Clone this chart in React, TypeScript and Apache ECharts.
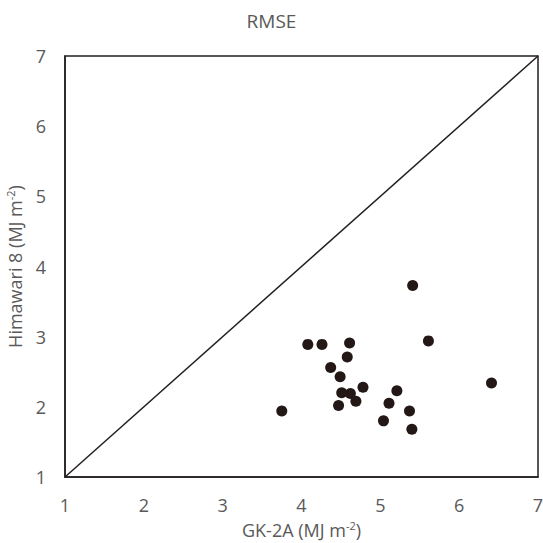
import React, { useEffect, useRef } from "react";
import * as echarts from "echarts";

const gk2a = [5.41, 5.61, 4.08, 4.26, 4.61, 4.58, 4.37, 4.49, 4.78, 6.41, 4.51, 4.62, 5.21, 4.69, 5.11, 4.47, 5.37, 5.04, 5.40, 3.75];
const himawari = [3.73, 2.94, 2.89, 2.89, 2.91, 2.71, 2.56, 2.43, 2.28, 2.34, 2.20, 2.19, 2.23, 2.08, 2.05, 2.02, 1.94, 1.80, 1.68, 1.94];
const oneToOne = [[1, 1], [7, 7]];

export default function App() {
  const ref = useRef<HTMLDivElement>(null);
  useEffect(() => {
    const chart = echarts.init(ref.current!, null, { renderer: "svg" });
    const gray = "#595959";
    const font = "Open Sans";
    const rich = {
      n: { color: gray, fontSize: 18, fontFamily: font, lineHeight: 20 },
      s: { color: gray, fontSize: 11, fontFamily: font, verticalAlign: "top", lineHeight: 12 },
    };
    chart.setOption({
      animation: false,
      backgroundColor: "#fff",
      title: {
        text: "RMSE",
        left: "center",
        top: 6,
        textStyle: { color: gray, fontSize: 19, fontWeight: "normal", fontFamily: font },
      },
      grid: {
        left: 65, right: 5, top: 56, bottom: 66,
        outerBoundsMode: "none", containLabel: false,
        show: true, borderColor: "#231f20", borderWidth: 1.5,
      },
      xAxis: {
        type: "value",
        min: 1,
        max: 7,
        interval: 1,
        name: "{n|GK-2A (MJ m}{s|-2}{n|)}",
        nameLocation: "middle",
        nameGap: 43,
        nameTextStyle: { rich },
        axisLine: { show: true, lineStyle: { color: "#231f20", width: 1.5 } },
        axisTick: { show: false },
        splitLine: { show: false },
        axisLabel: { color: gray, fontSize: 18, fontFamily: font, margin: 19 },
      },
      yAxis: {
        type: "value",
        min: 1,
        max: 7,
        interval: 1,
        name: "{n|Himawari 8 (MJ m}{s|-2}{n|)}",
        nameLocation: "middle",
        nameGap: 40,
        nameRotate: 90,
        nameTextStyle: { rich },
        axisLine: { show: true, lineStyle: { color: "#231f20", width: 1.5 } },
        axisTick: { show: false },
        splitLine: { show: false },
        axisLabel: { color: gray, fontSize: 18, fontFamily: font, margin: 19 },
      },
      series: [
        {
          type: "line",
          data: oneToOne,
          symbol: "none",
          lineStyle: { color: "#231f20", width: 1.5 },
          silent: true,
        },
        {
          type: "scatter",
          data: gk2a.map((x, i) => [x, himawari[i]]),
          symbolSize: 11,
          itemStyle: { color: "#231815", opacity: 1 },
        },
      ],
    });
    return () => chart.dispose();
  }, []);
  return <div ref={ref} style={{ width: 543, height: 543, position: "absolute", left: 0, top: 0 }} />;
}
